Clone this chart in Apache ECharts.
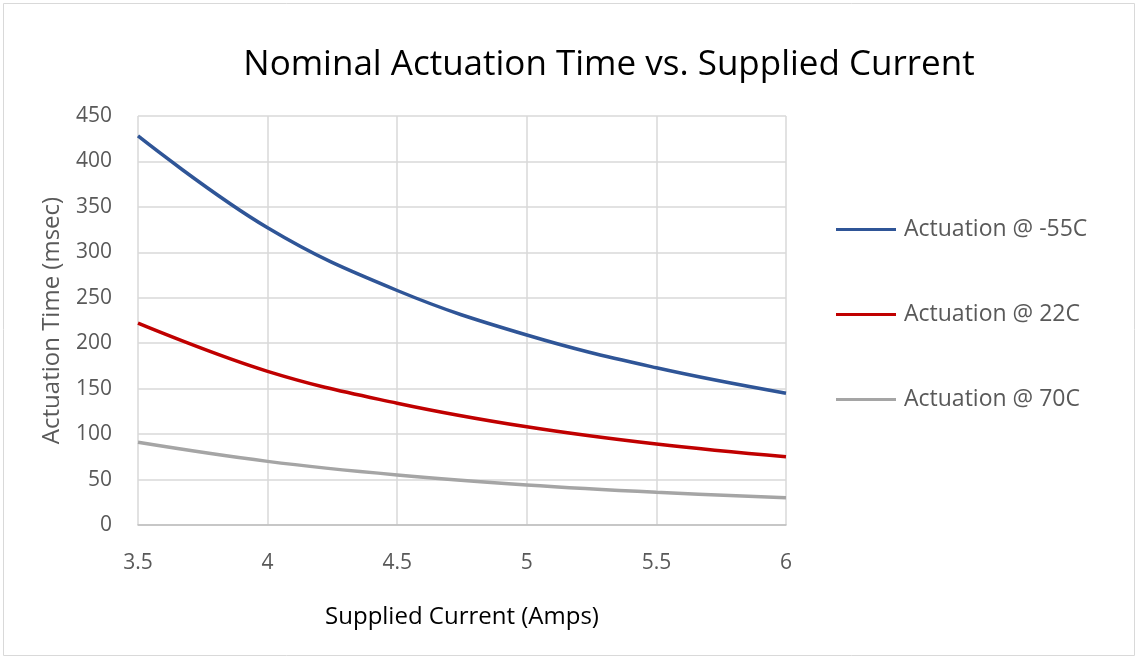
<!DOCTYPE html>
<html><head><meta charset="utf-8">
<script src="https://cdn.jsdelivr.net/npm/echarts@6/dist/echarts.min.js"></script>
<style>html,body{margin:0;padding:0;background:#fff}#c{width:1138px;height:659px}</style>
</head><body><div id="c"></div>
<script>
const currents = [3.5, 4, 4.5, 5, 5.5, 6];
const seriesNames = ['Actuation @ -55C', 'Actuation @ 22C', 'Actuation @ 70C'];
const minus55 = [428, 327, 258, 209, 173, 145];
const plus22 = [222, 169, 134, 108, 89, 75];
const plus70 = [91, 70, 55, 44, 36, 30];
const colors = ['#2F5597', '#C00000', '#A5A5A5'];
const values = [minus55, plus22, plus70];

const chart = echarts.init(document.getElementById('c'));
const font = "'Open Sans', 'Noto Sans', sans-serif";
chart.setOption({
  animation: false,
  title: {
    text: 'Nominal Actuation Time vs. Supplied Current',
    left: 604, top: 43, textAlign: 'center',
    textStyle: {fontFamily: font, fontSize: 35, fontWeight: 'normal', color: '#000'}
  },
  graphic: [{type: 'rect', shape: {x: 3.5, y: 3.5, width: 1131, height: 652}, style: {fill: null, stroke: '#d9d9d9', lineWidth: 1}}],
  legend: {
    orient: 'vertical', left: 831, top: 213, itemGap: 62, itemWidth: 60, itemHeight: 3,
    icon: 'rect',
    textStyle: {fontFamily: font, fontSize: 23, color: '#595959', padding: [0, 0, 0, 3]},
    data: seriesNames
  },
  grid: {left: 138, right: 352, top: 116, bottom: 134},
  xAxis: {
    type: 'value', min: 3.5, max: 6, interval: 0.5,
    name: 'Supplied Current (Amps)', nameLocation: 'middle', nameGap: 80,
    nameTextStyle: {fontFamily: font, fontSize: 24, color: '#000'},
    axisLine: {show: true, lineStyle: {color: '#BFBFBF', width: 1.5}},
    axisTick: {show: false},
    axisLabel: {fontFamily: font, fontSize: 21, color: '#595959', margin: 28},
    splitLine: {show: true, lineStyle: {color: '#D9D9D9', width: 1.5}}
  },
  yAxis: {
    type: 'value', min: 0, max: 450, interval: 50,
    name: 'Actuation Time (msec)', nameLocation: 'middle', nameGap: 74,
    nameTextStyle: {fontFamily: font, fontSize: 24, color: '#595959'},
    axisLine: {show: false}, axisTick: {show: false},
    axisLabel: {fontFamily: font, fontSize: 21, color: '#595959', margin: 26},
    splitLine: {show: true, lineStyle: {color: '#D9D9D9', width: 1.5}}
  },
  series: seriesNames.map((n, i) => ({
    name: n, type: 'line', smooth: 0.4, showSymbol: false,
    data: currents.map((x, j) => [x, values[i][j]]),
    lineStyle: {color: colors[i], width: 3.5}, itemStyle: {color: colors[i]}
  }))
});
</script></body></html>
